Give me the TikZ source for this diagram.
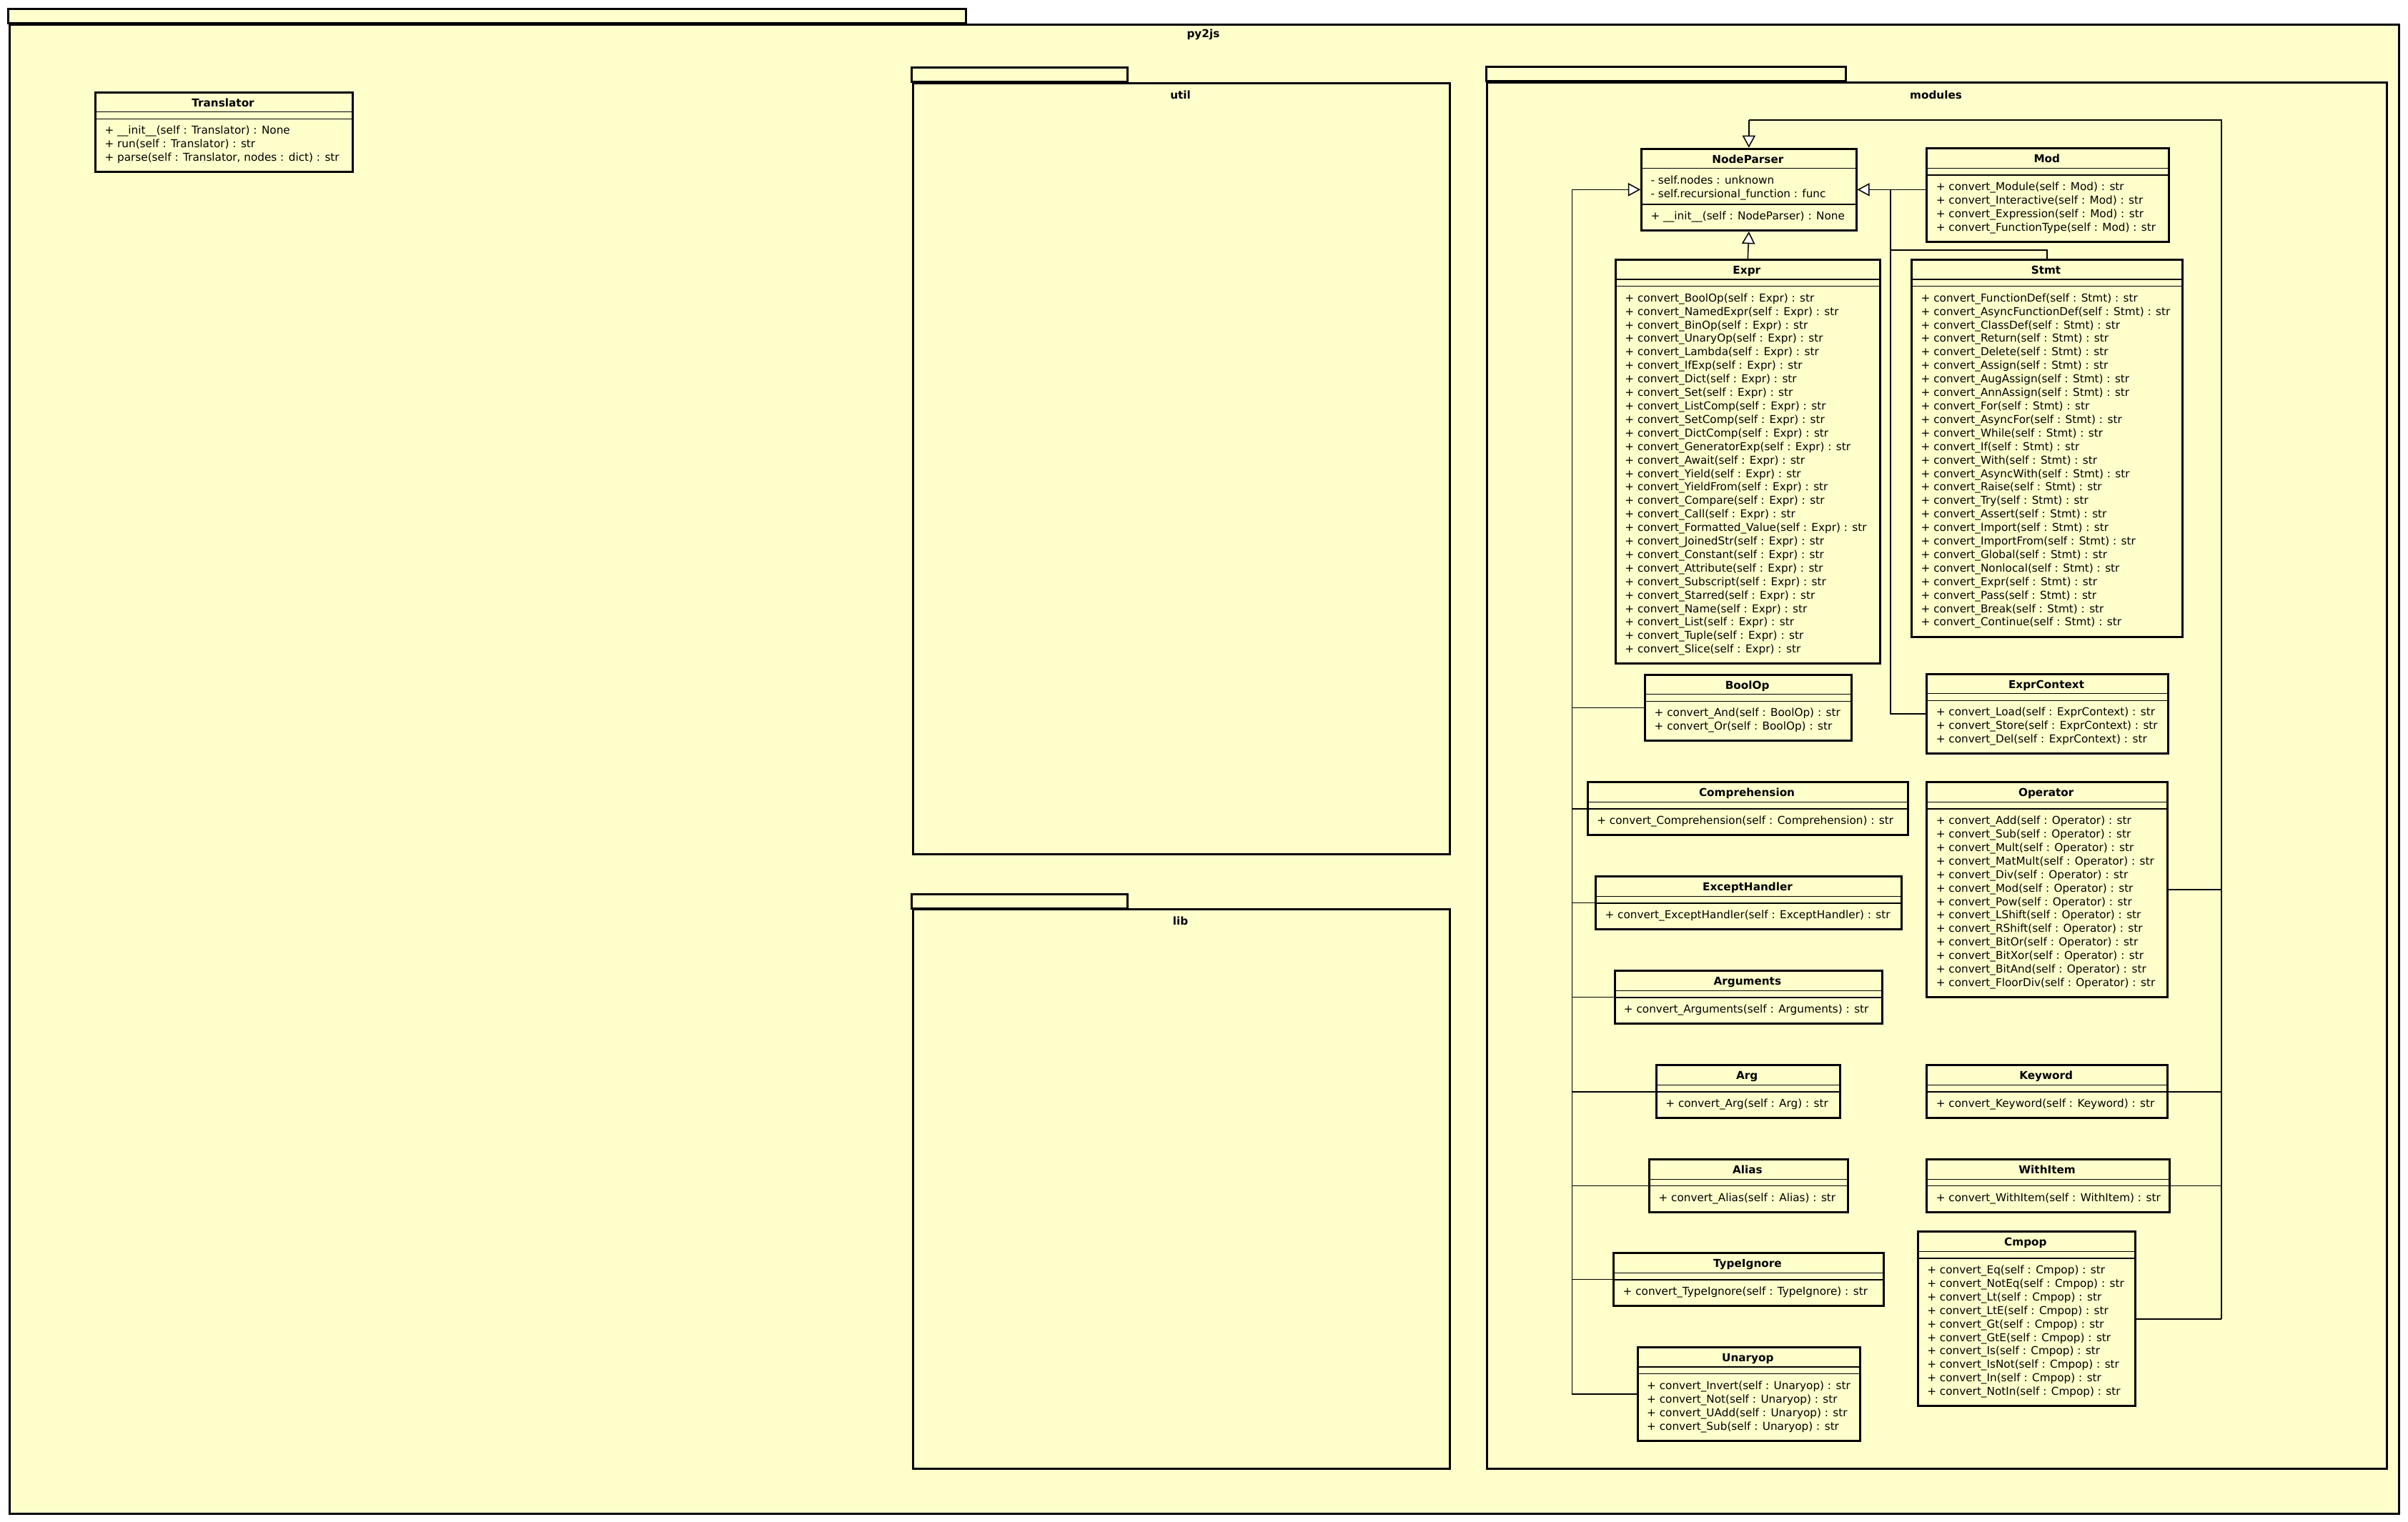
\documentclass[tikz,border=0pt]{standalone}
\usepackage{fontspec}
\setmainfont{DejaVu Sans}
\usepackage{tikz}
\usetikzlibrary{arrows.meta,positioning,calc}

\definecolor{umlfill}{HTML}{FFFFCC}
\newcommand{\membfont}{\fontsize{7.1}{8.8}\selectfont}

% class box: name, left, top, width, title, no. attributes, no. operations, attributes, operations
\newcommand{\umlclass}[9]{%
  \pgfmathsetmacro\attrh{ifthenelse(#6==0,4.5,5.8+8.8*#6)}
  \pgfmathsetmacro\clsh{13.5+\attrh+7.5+8.8*#7}
  \node[classbox, minimum width=#4pt, minimum height=\clsh pt, anchor=north west] (#1) at (#2,#3) {};
  \draw[sepline] (#2,#3+13.5) -- ++(#4,0);
  \draw[sepline] (#2,#3+13.5+\attrh) -- ++(#4,0);
  \node[classname, anchor=base] (#1-name) at (#2+#4/2,#3+10) {#5};
  \ifnum#6>0
    \foreach \a [count=\k] in {#8}
      \node[member] at (#2+6.5,#3+13.5+3.3+8.8*\k-4.4+2.3) {\a};
  \fi
  \foreach \o [count=\k] in {#9}
    \node[member] at (#2+6.5,#3+13.5+\attrh+3.3+8.8*\k-4.4+2.3) {\o};
}

\begin{document}
\begin{tikzpicture}[x=1pt, y=-1pt,
  pkg/.style={draw, line width=1.4pt, fill=umlfill},
  pkgname/.style={inner sep=0pt, font=\bfseries\membfont},
  classbox/.style={draw, rectangle, line width=1.4pt, fill=umlfill, inner sep=0pt},
  sepline/.style={line width=0.6pt},
  member/.style={anchor=base west, inner sep=0pt, font=\membfont},
  classname/.style={inner sep=0pt, font=\bfseries\membfont},
  assoc/.style={line width=0.7pt},
  inh/.style={line width=0.7pt, -{Triangle[length=8pt, width=8.5pt, fill=white]}}]

  \fill[white] (0,0) rectangle (1568,991);

  % Packages
  \draw[pkg] (5.4,5.9) rectangle (628.8,15.2);
  \node[pkg, inner sep=0pt, minimum width=1556.1pt, minimum height=970.1pt, anchor=north west] (py2js) at (5.4,15.2) {};
  \node[pkgname, anchor=base] (py2js-name) at (783.5,24.5) {py2js};

  \draw[pkg] (593.8,44.2) rectangle (734.1,53.4);
  \node[pkg, inner sep=0pt, minimum width=349.7pt, minimum height=502.1pt, anchor=north west] (util) at (593.8,53.4) {};
  \node[pkgname, anchor=base] (util-name) at (768.7,64.5) {util};

  \draw[pkg] (593.8,582.3) rectangle (734.1,591.7);
  \node[pkg, inner sep=0pt, minimum width=349.7pt, minimum height=364.3pt, anchor=north west] (lib) at (593.8,591.7) {};
  \node[pkgname, anchor=base] (lib-name) at (768.7,602.3) {lib};

  \draw[pkg] (967.8,43.7) rectangle (1202,52.9);
  \node[pkg, inner sep=0pt, minimum width=585.7pt, minimum height=903.1pt, anchor=north west] (modules) at (967.8,52.9) {};
  \node[pkgname, anchor=base] (modules-name) at (1260.6,64.5) {modules};

  % Classes
  \umlclass{translator}{61.5}{59.4}{167.5}{Translator}{0}{3}{}{%
    {+ \_\_init\_\_(self : Translator) : None},
    {+ run(self : Translator) : str},
    {+ parse(self : Translator, nodes : dict) : str}}

  \umlclass{nodeparser}{1068.2}{96.2}{139.8}{NodeParser}{2}{1}{%
    {- self.nodes : unknown},
    {- self.recursional\_function : func}}{%
    {+ \_\_init\_\_(self : NodeParser) : None}}

  \umlclass{mod}{1254}{96}{157.7}{Mod}{0}{4}{}{%
    {+ convert\_Module(self : Mod) : str},
    {+ convert\_Interactive(self : Mod) : str},
    {+ convert\_Expression(self : Mod) : str},
    {+ convert\_FunctionType(self : Mod) : str}}

  \umlclass{expr}{1051.4}{168.5}{172}{Expr}{0}{27}{}{%
    {+ convert\_BoolOp(self : Expr) : str},
    {+ convert\_NamedExpr(self : Expr) : str},
    {+ convert\_BinOp(self : Expr) : str},
    {+ convert\_UnaryOp(self : Expr) : str},
    {+ convert\_Lambda(self : Expr) : str},
    {+ convert\_IfExp(self : Expr) : str},
    {+ convert\_Dict(self : Expr) : str},
    {+ convert\_Set(self : Expr) : str},
    {+ convert\_ListComp(self : Expr) : str},
    {+ convert\_SetComp(self : Expr) : str},
    {+ convert\_DictComp(self : Expr) : str},
    {+ convert\_GeneratorExp(self : Expr) : str},
    {+ convert\_Await(self : Expr) : str},
    {+ convert\_Yield(self : Expr) : str},
    {+ convert\_YieldFrom(self : Expr) : str},
    {+ convert\_Compare(self : Expr) : str},
    {+ convert\_Call(self : Expr) : str},
    {+ convert\_Formatted\_Value(self : Expr) : str},
    {+ convert\_JoinedStr(self : Expr) : str},
    {+ convert\_Constant(self : Expr) : str},
    {+ convert\_Attribute(self : Expr) : str},
    {+ convert\_Subscript(self : Expr) : str},
    {+ convert\_Starred(self : Expr) : str},
    {+ convert\_Name(self : Expr) : str},
    {+ convert\_List(self : Expr) : str},
    {+ convert\_Tuple(self : Expr) : str},
    {+ convert\_Slice(self : Expr) : str}}

  \umlclass{stmt}{1244.2}{168.5}{176.1}{Stmt}{0}{25}{}{%
    {+ convert\_FunctionDef(self : Stmt) : str},
    {+ convert\_AsyncFunctionDef(self : Stmt) : str},
    {+ convert\_ClassDef(self : Stmt) : str},
    {+ convert\_Return(self : Stmt) : str},
    {+ convert\_Delete(self : Stmt) : str},
    {+ convert\_Assign(self : Stmt) : str},
    {+ convert\_AugAssign(self : Stmt) : str},
    {+ convert\_AnnAssign(self : Stmt) : str},
    {+ convert\_For(self : Stmt) : str},
    {+ convert\_AsyncFor(self : Stmt) : str},
    {+ convert\_While(self : Stmt) : str},
    {+ convert\_If(self : Stmt) : str},
    {+ convert\_With(self : Stmt) : str},
    {+ convert\_AsyncWith(self : Stmt) : str},
    {+ convert\_Raise(self : Stmt) : str},
    {+ convert\_Try(self : Stmt) : str},
    {+ convert\_Assert(self : Stmt) : str},
    {+ convert\_Import(self : Stmt) : str},
    {+ convert\_ImportFrom(self : Stmt) : str},
    {+ convert\_Global(self : Stmt) : str},
    {+ convert\_Nonlocal(self : Stmt) : str},
    {+ convert\_Expr(self : Stmt) : str},
    {+ convert\_Pass(self : Stmt) : str},
    {+ convert\_Break(self : Stmt) : str},
    {+ convert\_Continue(self : Stmt) : str}}

  \umlclass{boolop}{1070.6}{438.7}{134.4}{BoolOp}{0}{2}{}{%
    {+ convert\_And(self : BoolOp) : str},
    {+ convert\_Or(self : BoolOp) : str}}

  \umlclass{exprcontext}{1254}{438.3}{157}{ExprContext}{0}{3}{}{%
    {+ convert\_Load(self : ExprContext) : str},
    {+ convert\_Store(self : ExprContext) : str},
    {+ convert\_Del(self : ExprContext) : str}}

  \umlclass{comprehension}{1033.2}{508.9}{208.6}{Comprehension}{0}{1}{}{%
    {+ convert\_Comprehension(self : Comprehension) : str}}

  \umlclass{operator}{1254}{508.9}{156.7}{Operator}{0}{13}{}{%
    {+ convert\_Add(self : Operator) : str},
    {+ convert\_Sub(self : Operator) : str},
    {+ convert\_Mult(self : Operator) : str},
    {+ convert\_MatMult(self : Operator) : str},
    {+ convert\_Div(self : Operator) : str},
    {+ convert\_Mod(self : Operator) : str},
    {+ convert\_Pow(self : Operator) : str},
    {+ convert\_LShift(self : Operator) : str},
    {+ convert\_RShift(self : Operator) : str},
    {+ convert\_BitOr(self : Operator) : str},
    {+ convert\_BitXor(self : Operator) : str},
    {+ convert\_BitAnd(self : Operator) : str},
    {+ convert\_FloorDiv(self : Operator) : str}}

  \umlclass{excepthandler}{1038.4}{570.3}{199.1}{ExceptHandler}{0}{1}{}{%
    {+ convert\_ExceptHandler(self : ExceptHandler) : str}}

  \umlclass{arguments}{1050.7}{631.7}{174.3}{Arguments}{0}{1}{}{%
    {+ convert\_Arguments(self : Arguments) : str}}

  \umlclass{arg}{1077.9}{693.2}{119.4}{Arg}{0}{1}{}{%
    {+ convert\_Arg(self : Arg) : str}}

  \umlclass{keyword}{1254}{693.2}{156.7}{Keyword}{0}{1}{}{%
    {+ convert\_Keyword(self : Keyword) : str}}

  \umlclass{alias}{1073.3}{754.5}{129.2}{Alias}{0}{1}{}{%
    {+ convert\_Alias(self : Alias) : str}}

  \umlclass{withitem}{1254}{754.5}{158}{WithItem}{0}{1}{}{%
    {+ convert\_WithItem(self : WithItem) : str}}

  \umlclass{typeignore}{1050.1}{815.5}{175.6}{TypeIgnore}{0}{1}{}{%
    {+ convert\_TypeIgnore(self : TypeIgnore) : str}}

  \umlclass{cmpop}{1248.2}{801.6}{141.5}{Cmpop}{0}{10}{}{%
    {+ convert\_Eq(self : Cmpop) : str},
    {+ convert\_NotEq(self : Cmpop) : str},
    {+ convert\_Lt(self : Cmpop) : str},
    {+ convert\_LtE(self : Cmpop) : str},
    {+ convert\_Gt(self : Cmpop) : str},
    {+ convert\_GtE(self : Cmpop) : str},
    {+ convert\_Is(self : Cmpop) : str},
    {+ convert\_IsNot(self : Cmpop) : str},
    {+ convert\_In(self : Cmpop) : str},
    {+ convert\_NotIn(self : Cmpop) : str}}

  \umlclass{unaryop}{1065.7}{876.9}{144.8}{Unaryop}{0}{4}{}{%
    {+ convert\_Invert(self : Unaryop) : str},
    {+ convert\_Not(self : Unaryop) : str},
    {+ convert\_UAdd(self : Unaryop) : str},
    {+ convert\_Sub(self : Unaryop) : str}}

  % Generalisations into NodeParser
  \coordinate (lt) at (1023.6,0 |- nodeparser.west);
  \draw[assoc] (lt) -- (lt |- unaryop.west);
  \foreach \c in {boolop, comprehension, excepthandler, arguments, arg, alias, typeignore, unaryop}
    \draw[assoc] (lt |- \c.west) -- (\c.west);
  \draw[inh] (lt) -- (nodeparser.west);

  \coordinate (rt) at (1231,0 |- nodeparser.east);
  \coordinate (sj) at (1231,162.8);
  \draw[assoc] (rt) -- (rt |- exprcontext.west) -- (exprcontext.west);
  \draw[assoc] (sj) -| (stmt.north);
  \draw[inh] (mod.west |- nodeparser.east) -- (nodeparser.east);

  \coordinate (tt) at (nodeparser.north |- 0,78.3);
  \coordinate (tr) at (1446.5,78.3);
  \draw[assoc] (tt) -- (tr) -- (tr |- cmpop.east);
  \foreach \c in {operator, keyword, withitem, cmpop}
    \draw[assoc] (tr |- \c.east) -- (\c.east);
  \draw[inh] (tt) -- (nodeparser.north);

  \draw[inh] (expr.north) -- (nodeparser.south);
\end{tikzpicture}
\end{document}
